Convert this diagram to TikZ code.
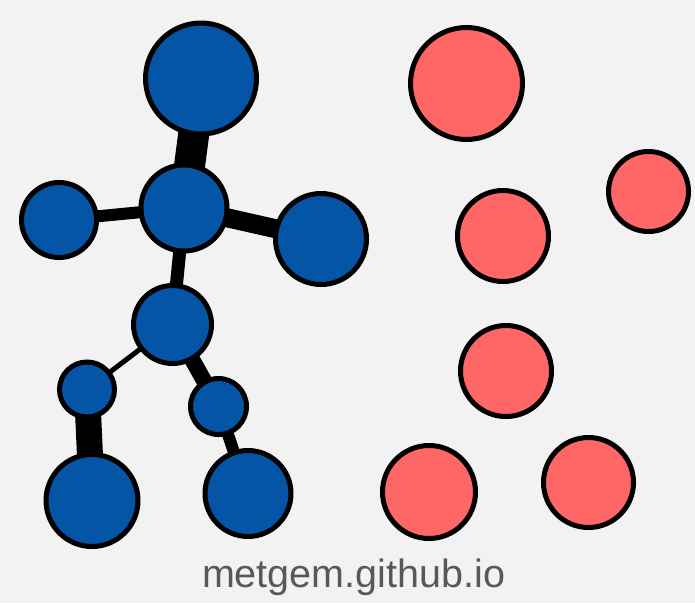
\documentclass[tikz,border=0pt]{standalone}
\usepackage{fontspec}
\setmainfont{Liberation Sans}
\definecolor{bg}{HTML}{F2F2F2}
\definecolor{nodeblue}{HTML}{0455A6}
\definecolor{nodered}{HTML}{FF6666}
\definecolor{urlgray}{HTML}{585855}
\pgfdeclarelayer{bgfill}
\pgfdeclarelayer{edges}
\pgfsetlayers{bgfill,edges,main}
\begin{document}
\begin{tikzpicture}[x=1pt,y=-1pt,
  bnode/.style={circle,draw=black,line width=5pt,fill=nodeblue,inner sep=0pt},
  rnode/.style={circle,draw=black,line width=5pt,fill=nodered,inner sep=0pt},
  edge/.style={draw=black}]
\useasboundingbox (0,0) rectangle (695,603);
% blue cluster
\node[bnode,minimum size=111pt] (top) at (201,78.5) {};
\node[bnode,minimum size=86pt] (ctr) at (184,208) {};
\node[bnode,minimum size=75pt] (lft) at (59,220) {};
\node[bnode,minimum size=91pt] (rgt) at (321,239) {};
\node[bnode,minimum size=78pt] (mid) at (172.5,324.5) {};
\node[bnode,minimum size=55pt] (sl) at (87,389.5) {};
\node[bnode,minimum size=56pt] (sr) at (218.5,406.5) {};
\node[bnode,minimum size=92pt] (bl) at (92,500.5) {};
\node[bnode,minimum size=86pt] (br) at (248,493.5) {};
% red nodes
\node[rnode,minimum size=112pt] (r1) at (466.5,83.5) {};
\node[rnode,minimum size=80pt] (r2) at (648.5,191.5) {};
\node[rnode,minimum size=91pt] (r3) at (503,236) {};
\node[rnode,minimum size=91pt] (r4) at (506,371) {};
\node[rnode,minimum size=93pt] (r5) at (429,492) {};
\node[rnode,minimum size=90pt] (r6) at (588.5,482.5) {};
% edges
\begin{pgfonlayer}{edges}
\draw[edge,line width=31pt] (top.center) -- (ctr.center);
\draw[edge,line width=12pt] (ctr.center) -- (lft.center);
\draw[edge,line width=19pt] (ctr.center) -- (rgt.center);
\draw[edge,line width=13pt] (ctr.center) -- (mid.center);
\draw[edge,line width=5pt] (mid.center) -- (sl.center);
\draw[edge,line width=16pt] (mid.center) -- (sr.center);
\draw[edge,line width=26pt] (sl.center) -- (bl.center);
\draw[edge,line width=12pt] (sr.center) -- (br.center);
\end{pgfonlayer}
\begin{pgfonlayer}{bgfill}
\fill[bg] (0,0) rectangle (695,603);
\end{pgfonlayer}
\node[text=urlgray,font=\fontsize{39.5}{40}\selectfont,anchor=base] (url) at (353.5,587) {metgem.github.io};
\end{tikzpicture}
\end{document}
